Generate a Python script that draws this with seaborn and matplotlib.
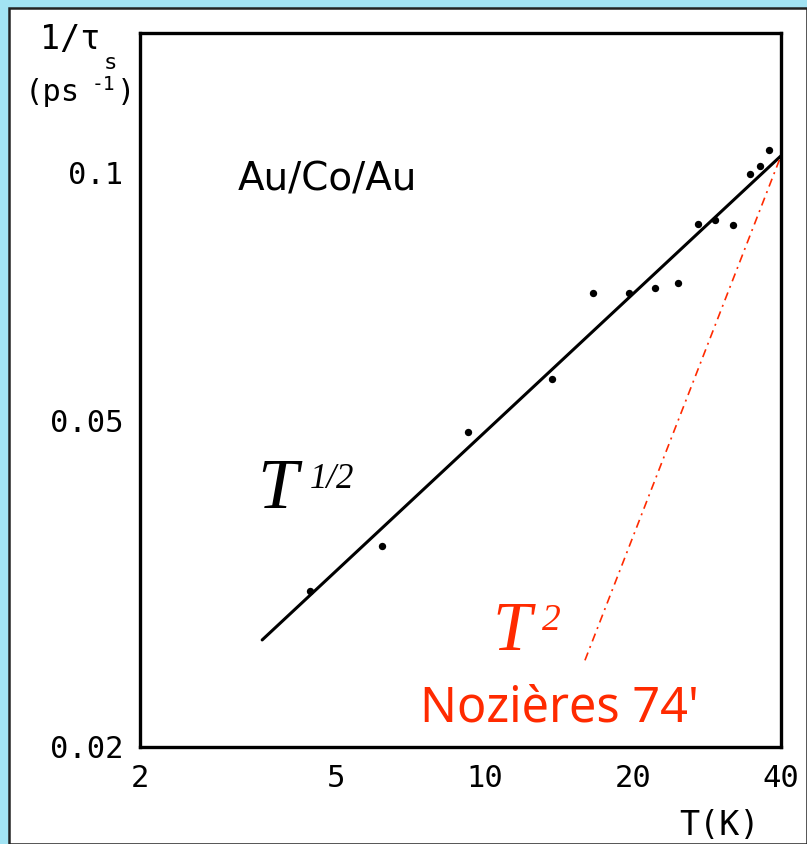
import matplotlib
matplotlib.use("Agg")
import matplotlib.pyplot as plt
import seaborn as sns
import pandas as pd
from matplotlib.patches import Rectangle
from matplotlib.ticker import FixedLocator, FixedFormatter, NullLocator

# ---- data ----
temp_K = [4.43, 6.2, 9.27, 13.7, 16.6, 19.7, 22.2, 24.7, 27.1, 29.4, 32.0, 34.6, 36.2, 37.8]
rate = [0.0310, 0.0351, 0.0484, 0.0561, 0.0714, 0.0714, 0.0724, 0.0734, 0.0867, 0.0876, 0.0864, 0.0997, 0.1020, 0.1067]

fit_T = [3.54, 40.0]          # T^1/2 fit
fit_rate = [0.0270, 0.1049]

t2_T = [16.0, 40.0]           # T^2 (Nozieres) line
t2_rate = [0.0255, 0.1049]

x_ticks = [2, 5, 10, 20, 40]
x_tick_labels = ["2", "5", "10", "20", "40"]
y_ticks = [0.02, 0.05, 0.1]
y_tick_labels = ["0.02", "0.05", "0.1"]

W, H = 807, 844
sns.set_style("white")
plt.rcParams['font.family'] = ['DejaVu Sans']
MONO = "DejaVu Sans Mono"

fig = plt.figure(figsize=(W / 100, H / 100), dpi=100)
fig.patch.set_facecolor("#a2e3f3")

def px(x, y):
    return (x / W, 1 - y / H)

# white inner panel
fig.patches.append(Rectangle(px(9, 844), (W - 9) / W, (844 - 8) / H,
                             transform=fig.transFigure, facecolor="white",
                             edgecolor="#222222", linewidth=1.8, zorder=-10))

left, right, top, bottom = 140, 781, 33, 747
ax = fig.add_axes([left / W, 1 - bottom / H, (right - left) / W, (bottom - top) / H])
ax.set_zorder(5)
ax.set_facecolor("none")

df_pts = pd.DataFrame({"T": temp_K, "rate": rate})
df_fit = pd.DataFrame({"T": fit_T, "rate": fit_rate})
df_t2 = pd.DataFrame({"T": t2_T, "rate": t2_rate})

sns.lineplot(data=df_fit, x="T", y="rate", ax=ax, color="black", linewidth=2.2)
sns.lineplot(data=df_t2, x="T", y="rate", ax=ax, color="#ff2a00", linewidth=1.2,
             linestyle=(0, (5, 3, 1.2, 3)))
sns.scatterplot(data=df_pts, x="T", y="rate", ax=ax, color="black", s=28,
                edgecolor="black", linewidth=0, zorder=5)

ax.set_xscale("log")
ax.set_yscale("log")
ax.set_xlim(2, 40)
ax.set_ylim(0.02, 0.148)

ax.xaxis.set_major_locator(FixedLocator(x_ticks))
ax.xaxis.set_major_formatter(FixedFormatter(x_tick_labels))
ax.yaxis.set_major_locator(FixedLocator(y_ticks))
ax.yaxis.set_major_formatter(FixedFormatter(y_tick_labels))
ax.xaxis.set_minor_locator(NullLocator())
ax.yaxis.set_minor_locator(NullLocator())
ax.tick_params(axis="both", which="major", direction="out", length=6, width=2,
               labelsize=22, color="black", labelcolor="black")
ax.tick_params(axis="x", pad=6)
ax.tick_params(axis="y", pad=6)
for lab in ax.get_xticklabels() + ax.get_yticklabels():
    lab.set_family(MONO)
ax.set_xlabel("")
ax.set_ylabel("")
for sp in ax.spines.values():
    sp.set_visible(True)
    sp.set_color("black")
    sp.set_linewidth(2.4)

# axis labels
fig.text(*px(40, 49), "1/τ", fontsize=24, color="black", ha="left", va="baseline",
         family=MONO, zorder=10)
fig.text(*px(104, 69), "s", fontsize=16, color="black", ha="left", va="baseline",
         family=MONO, zorder=10)
fig.text(*px(25, 101), "(ps", fontsize=22, color="black", ha="left", va="baseline",
         family=MONO, zorder=10)
fig.text(*px(92, 90), "-1", fontsize=14, color="black", ha="left", va="baseline",
         family=MONO, zorder=10)
fig.text(*px(117, 101), ")", fontsize=22, color="black", ha="left", va="baseline",
         family=MONO, zorder=10)
fig.text(*px(760, 835), "T(K)", fontsize=24, color="black", ha="right", va="baseline",
         family=MONO, zorder=10)

# annotations
fig.text(*px(238, 190), "Au/Co/Au", fontsize=28, color="black", ha="left", va="baseline", zorder=10)
fig.text(*px(257, 508), "T", fontsize=52, color="black", ha="left", va="baseline",
         family="Liberation Serif", style="italic", zorder=10)
fig.text(*px(310, 488), "1/2", fontsize=25, color="black", ha="left", va="baseline",
         family="Liberation Serif", style="italic", zorder=10)
fig.text(*px(492, 650), "T", fontsize=50, color="#ff2a00", ha="left", va="baseline",
         family="Liberation Serif", style="italic", zorder=10)
fig.text(*px(542, 630), "2", fontsize=27, color="#ff2a00", ha="left", va="baseline",
         family="Liberation Serif", style="italic", zorder=10)
fig.text(*px(420, 721), "Nozières 74'", fontsize=35, color="#ff2a00", ha="left",
         va="baseline", family="Noto Sans", zorder=10)

fig.savefig("out.png", dpi=100, facecolor=fig.get_facecolor())
